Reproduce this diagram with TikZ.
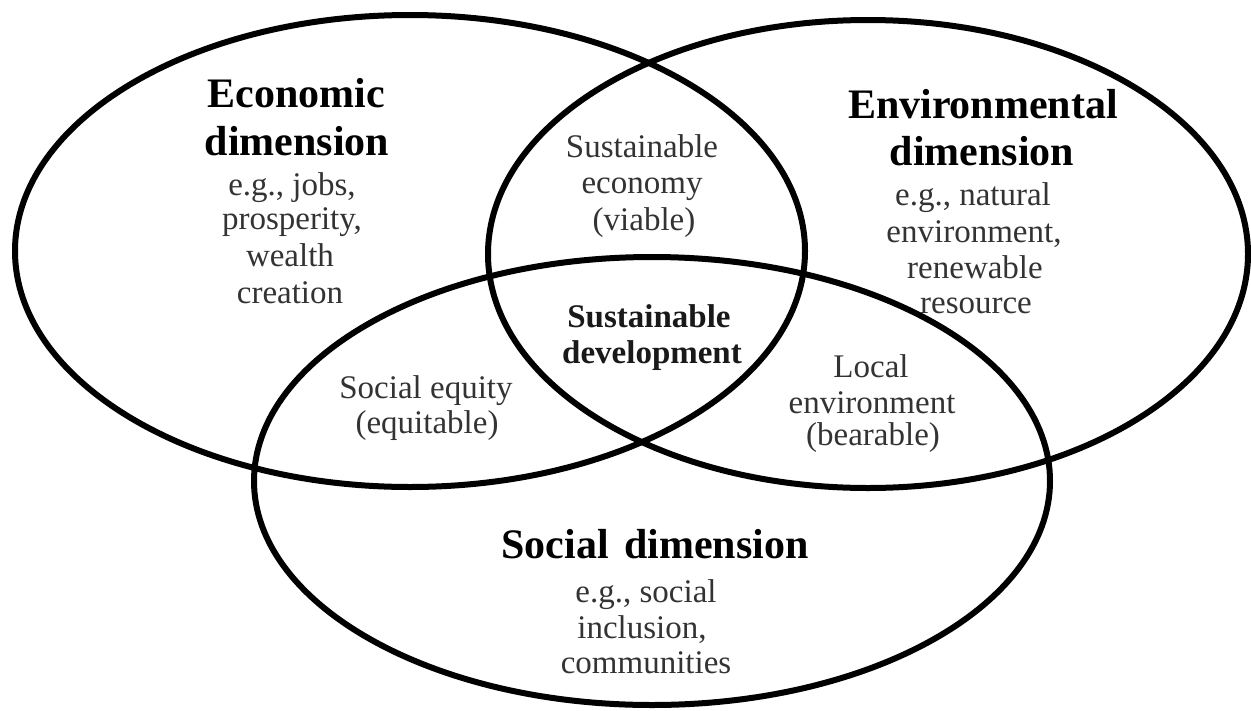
\documentclass[tikz,border=0pt]{standalone}
\usepackage{fontspec}
\setmainfont{Liberation Serif}
\definecolor{bodygray}{gray}{0.2}
\tikzset{
  ring/.style={draw=black, line width=6pt},
  head/.style={font=\fontsize{42}{48}\selectfont\bfseries, text=black, anchor=base, inner sep=0pt},
  body/.style={font=\fontsize{33}{36}\selectfont, text=bodygray, anchor=base, inner sep=0pt},
  core/.style={font=\fontsize{33}{36}\selectfont\bfseries, text=black!90, anchor=base, inner sep=0pt}
}
\begin{document}
\begin{tikzpicture}[x=1pt,y=-1pt]
\useasboundingbox (0,0) rectangle (1251,710);
% ellipses
\draw[ring] (410,251) ellipse [x radius=395pt, y radius=236pt];
\draw[ring] (868,254) ellipse [x radius=380pt, y radius=234pt];
\draw[ring] (652,481) ellipse [x radius=398pt, y radius=224pt];
% Economic
\node[head] (eco1) at (296,107) {Economic};
\node[head] (eco2) at (297,155) {dimension};
\node[body] (eco3) at (292,195) {e.g., jobs,};
\node[body] (eco4) at (292,229) {prosperity,};
\node[body] (eco5) at (290,266) {wealth};
\node[body] (eco6) at (290,303) {creation};
% Environmental
\node[head] (env1) at (983,118) {Environmental};
\node[head] (env2) at (982,165) {dimension};
\node[body] (env3) at (973,205) {e.g., natural};
\node[body] (env4) at (974,242) {environment,};
\node[body] (env5) at (975,278) {renewable};
\node[body] (env6) at (976,313) {resource};
% Social
\node[head] (soc1) at (655,558) {Social\hspace{0.12em} dimension};
\node[body] (soc2) at (646,602) {e.g., social};
\node[body] (soc3) at (642,638) {inclusion,};
\node[body] (soc4) at (646,673) {communities};
% Overlaps
\node[body] (se1) at (642,157) {Sustainable};
\node[body] (se2) at (642,193) {economy};
\node[body] (se3) at (644,230) {(viable)};
\node[core] (sd1) at (649,327) {Sustainable};
\node[core] (sd2) at (652,363) {development};
\node[body] (eq1) at (426,398) {Social equity};
\node[body] (eq2) at (427,433) {(equitable)};
\node[body] (le1) at (871,377) {Local};
\node[body] (le2) at (872,413) {environment};
\node[body] (le3) at (873,445) {(bearable)};
\end{tikzpicture}
\end{document}
